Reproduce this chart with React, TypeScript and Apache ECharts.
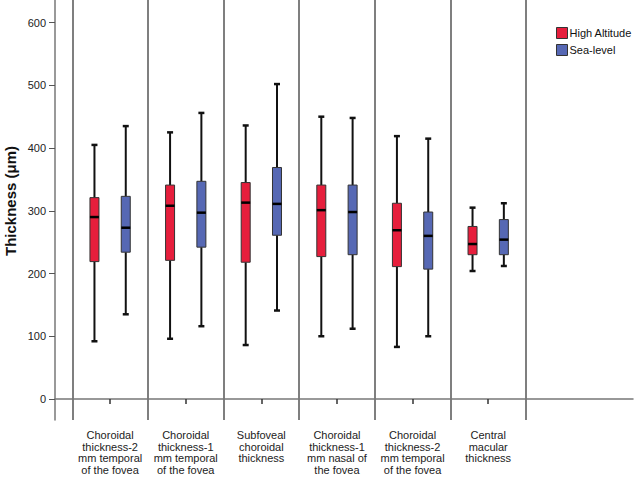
import React, { useEffect, useRef } from "react";
import * as echarts from "echarts";

const categories = [
  "Choroidal\nthickness-2\nmm temporal\nof the fovea",
  "Choroidal\nthickness-1\nmm temporal\nof the fovea",
  "Subfoveal\nchoroidal\nthickness",
  "Choroidal\nthickness-1\nmm nasal of\nthe fovea",
  "Choroidal\nthickness-2\nmm temporal\nof the fovea",
  "Central\nmacular\nthickness",
];

// [min, Q1, median, Q3, max]
const highAltitude = [
  [92, 219, 290, 321, 405],
  [96, 221, 308, 341, 425],
  [86, 218, 313, 345, 436],
  [100, 227, 301, 341, 450],
  [83, 211, 269, 312, 419],
  [204, 230, 247, 275, 305],
];
const seaLevel = [
  [135, 234, 273, 323, 435],
  [116, 242, 297, 347, 456],
  [141, 261, 311, 369, 502],
  [112, 230, 298, 341, 448],
  [100, 207, 260, 298, 415],
  [212, 230, 254, 286, 312],
];
const yTicks = [0, 100, 200, 300, 400, 500, 600];

const RED = "#E61E3C";
const BLUE = "#5668B4";
const Y_MIN = -33.5;
const Y_MAX = 636;

function makeRender(sign: number) {
  return (params: any, api: any) => {
    const cat = api.value(0);
    const lo = api.value(1);
    const q1 = api.value(2);
    const med = api.value(3);
    const q3 = api.value(4);
    const hi = api.value(5);
    const band = api.size([1, 0])[0];
    const x = api.coord([cat, med])[0] + sign * band * 0.207;
    const y = (v: number) => api.coord([cat, v])[1];
    const bw = 9;
    const cap = 3;
    const stroke = { stroke: "#111", lineWidth: 2 };
    return {
      type: "group",
      children: [
        { type: "line", shape: { x1: x, y1: y(lo), x2: x, y2: y(q1) }, style: stroke },
        { type: "line", shape: { x1: x, y1: y(q3), x2: x, y2: y(hi) }, style: stroke },
        { type: "line", shape: { x1: x - cap, y1: y(lo), x2: x + cap, y2: y(lo) }, style: { stroke: "#111", lineWidth: 2.5 } },
        { type: "line", shape: { x1: x - cap, y1: y(hi), x2: x + cap, y2: y(hi) }, style: { stroke: "#111", lineWidth: 2.5 } },
        {
          type: "rect",
          shape: { x: x - bw / 2, y: y(q3), width: bw, height: y(q1) - y(q3) },
          style: { fill: api.visual("color"), stroke: "#333", lineWidth: 1 },
        },
        { type: "line", shape: { x1: x - bw / 2, y1: y(med), x2: x + bw / 2, y2: y(med) }, style: { stroke: "#000", lineWidth: 2.5 } },
      ],
    };
  };
}

function toData(arr: number[][]) {
  return arr.map((d, i) => [i, ...d]);
}

export default function App() {
  const ref = useRef<HTMLDivElement>(null);
  useEffect(() => {
    if (!ref.current) return;
    const chart = echarts.init(ref.current, undefined, { renderer: "svg" });
    const font = "Arial, 'Liberation Sans', sans-serif";
    chart.setOption({
      animation: false,
      backgroundColor: "#fff",
      textStyle: { fontFamily: font },
      grid: [
        { left: 72.3, right: 109, top: 0, bottom: 58 },
        { left: 55, right: 2, top: 0, bottom: 58 },
      ],
      xAxis: [
        {
          type: "category",
          gridIndex: 0,
          data: categories,
          boundaryGap: true,
          axisLine: { show: false },
          axisTick: { show: true, alignWithLabel: true, length: 5, lineStyle: { color: "#333", width: 1.5 } },
          axisLabel: { interval: 0, color: "#222", fontSize: 11, lineHeight: 11.7, margin: 9, fontFamily: font },
          splitLine: { show: true, interval: 0, lineStyle: { color: "#555", width: 1.5 } },
        },
        {
          type: "value",
          gridIndex: 1,
          min: 0,
          max: 1,
          axisLine: { show: true, lineStyle: { color: "#777", width: 1.5 } },
          axisTick: { show: false },
          axisLabel: { show: false },
          splitLine: { show: false },
        },
      ],
      yAxis: [
        {
          type: "value",
          gridIndex: 0,
          min: Y_MIN,
          max: Y_MAX,
          show: false,
          splitLine: { show: false },
        },
        {
          type: "value",
          gridIndex: 1,
          min: Y_MIN,
          max: Y_MAX,
          axisLine: { show: true, lineStyle: { color: "#777", width: 1.5 } },
          axisTick: { show: true, length: 6, customValues: yTicks, lineStyle: { color: "#555" } },
          axisLabel: { customValues: yTicks, color: "#222", fontSize: 11, margin: 9, fontFamily: font },
          splitLine: { show: false },
        },
      ],
      legend: {
        orient: "vertical",
        left: 551,
        top: 22,
        itemWidth: 11,
        itemHeight: 11,
        itemGap: 5,
        icon: "rect",
        textStyle: { fontSize: 11, color: "#111", fontFamily: font, padding: [0, 0, 0, -3] },
        data: [
          { name: "High Altitude", itemStyle: { color: RED, borderColor: "#333", borderWidth: 1 } },
          { name: "Sea-level", itemStyle: { color: BLUE, borderColor: "#333", borderWidth: 1 } },
        ],
      },
      graphic: [
        {
          type: "text",
          x: 10,
          y: 201,
          rotation: Math.PI / 2,
          style: {
            text: "Thickness (μm)",
            font: `bold 15px ${font}`,
            fill: "#111",
            textAlign: "center",
            textVerticalAlign: "middle",
          },
        },
      ],
      series: [
        {
          name: "High Altitude",
          type: "custom",
          xAxisIndex: 0,
          yAxisIndex: 0,
          itemStyle: { color: RED },
          renderItem: makeRender(-1),
          encode: { x: 0, y: [1, 2, 3, 4, 5] },
          data: toData(highAltitude),
        },
        {
          name: "Sea-level",
          type: "custom",
          xAxisIndex: 0,
          yAxisIndex: 0,
          itemStyle: { color: BLUE },
          renderItem: makeRender(1),
          encode: { x: 0, y: [1, 2, 3, 4, 5] },
          data: toData(seaLevel),
        },
      ],
    });
    return () => chart.dispose();
  }, []);
  return <div ref={ref} style={{ width: 635, height: 478, position: "absolute", left: 0, top: 0 }} />;
}
